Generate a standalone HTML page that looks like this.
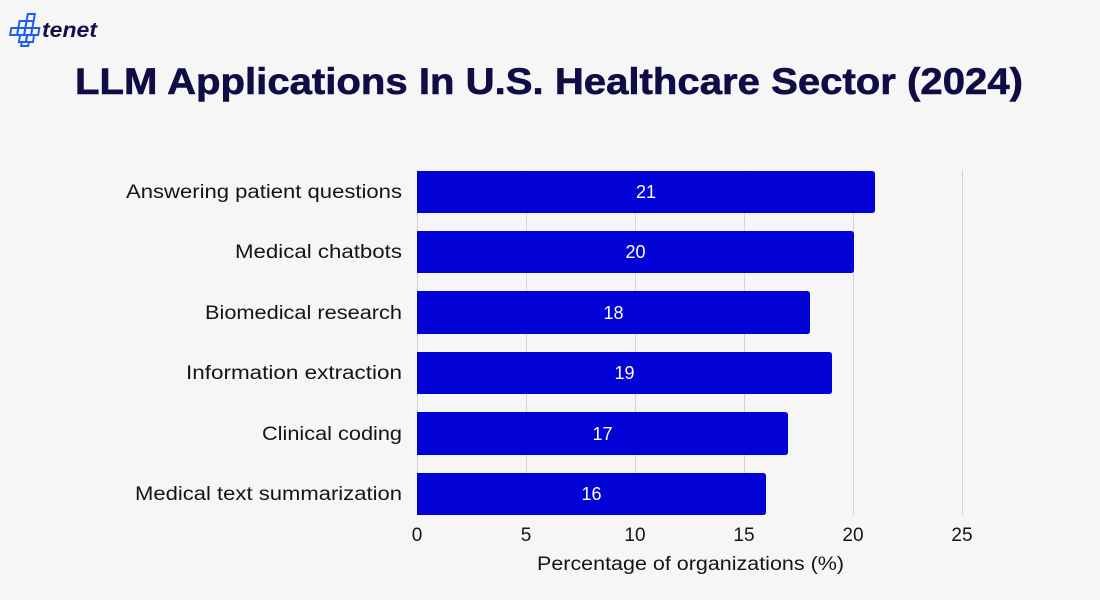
<!DOCTYPE html>
<html>
<head>
<meta charset="utf-8">
<style>
  html,body{margin:0;padding:0;background:#f6f6f6;}
  svg{display:block;}
  text{font-family:"Liberation Sans",sans-serif;}
</style>
</head>
<body>
<svg width="1100" height="600" viewBox="0 0 1100 600" xmlns="http://www.w3.org/2000/svg">
  <rect width="1100" height="600" fill="#f6f6f6"/>

  <!-- logo icon -->
  <g fill="none" stroke="#1f5cf2" stroke-width="2" transform="translate(25,30) skewX(-10)">
    <rect x="0" y="-16" width="7" height="7"/>
    <rect x="-7" y="-9" width="7" height="7"/>
    <rect x="0" y="-9" width="7" height="7"/>
    <rect x="-14" y="-2" width="7" height="7"/>
    <rect x="-7" y="-2" width="7" height="7"/>
    <rect x="0" y="-2" width="7" height="7"/>
    <rect x="7" y="-2" width="7" height="7"/>
    <rect x="-4" y="5" width="7" height="7"/>
    <rect x="3" y="5" width="7" height="7"/>
    <rect x="-1" y="12" width="7" height="4"/>
  </g>
  <text x="42" y="37" font-size="21" font-weight="bold" font-style="italic" fill="#12104a" textLength="55" lengthAdjust="spacingAndGlyphs">tenet</text>

  <!-- title -->
  <text x="75" y="94" font-size="37" font-weight="bold" fill="#100c46" stroke="#100c46" stroke-width="0.6" textLength="948" lengthAdjust="spacingAndGlyphs">LLM Applications In U.S. Healthcare Sector (2024)</text>

  <!-- gridlines -->
  <g stroke="#d4d4d4" stroke-width="1">
    <line x1="417.5" y1="170" x2="417.5" y2="515"/>
    <line x1="526.5" y1="170" x2="526.5" y2="515"/>
    <line x1="635.5" y1="170" x2="635.5" y2="515"/>
    <line x1="744.5" y1="170" x2="744.5" y2="515"/>
    <line x1="853.5" y1="170" x2="853.5" y2="515"/>
    <line x1="962.5" y1="170" x2="962.5" y2="515"/>
  </g>

  <!-- bars -->
  <g fill="#0202d6">
    <path d="M417 171 H872 Q875 171 875 174 V210 Q875 213 872 213 H417 Z"/>
    <path d="M417 231 H851 Q854 231 854 234 V270 Q854 273 851 273 H417 Z"/>
    <path d="M417 291 H807 Q810 291 810 294 V331 Q810 334 807 334 H417 Z"/>
    <path d="M417 352 H829 Q832 352 832 355 V391 Q832 394 829 394 H417 Z"/>
    <path d="M417 412 H785 Q788 412 788 415 V452 Q788 455 785 455 H417 Z"/>
    <path d="M417 473 H763 Q766 473 766 476 V512 Q766 515 763 515 H417 Z"/>
  </g>

  <!-- bar value labels -->
  <g fill="#ffffff" font-size="18" text-anchor="middle">
    <text x="646" y="198">21</text>
    <text x="635.5" y="258">20</text>
    <text x="613.5" y="319">18</text>
    <text x="624.5" y="379">19</text>
    <text x="602.5" y="440">17</text>
    <text x="591.5" y="500">16</text>
  </g>

  <!-- category labels -->
  <g fill="#141414" font-size="19">
    <text x="126" y="198" textLength="276" lengthAdjust="spacingAndGlyphs">Answering patient questions</text>
    <text x="235" y="258" textLength="167" lengthAdjust="spacingAndGlyphs">Medical chatbots</text>
    <text x="205" y="319" textLength="197" lengthAdjust="spacingAndGlyphs">Biomedical research</text>
    <text x="186" y="379" textLength="216" lengthAdjust="spacingAndGlyphs">Information extraction</text>
    <text x="262" y="440" textLength="140" lengthAdjust="spacingAndGlyphs">Clinical coding</text>
    <text x="135" y="500" textLength="267" lengthAdjust="spacingAndGlyphs">Medical text summarization</text>
  </g>

  <!-- tick labels -->
  <g fill="#141414" font-size="19" text-anchor="middle">
    <text x="417" y="541">0</text>
    <text x="526" y="541">5</text>
    <text x="635" y="541">10</text>
    <text x="744" y="541">15</text>
    <text x="853" y="541">20</text>
    <text x="962" y="541">25</text>
  </g>

  <!-- axis title -->
  <text x="537" y="570" font-size="19" fill="#141414" textLength="307" lengthAdjust="spacingAndGlyphs">Percentage of organizations (%)</text>
</svg>
</body>
</html>
